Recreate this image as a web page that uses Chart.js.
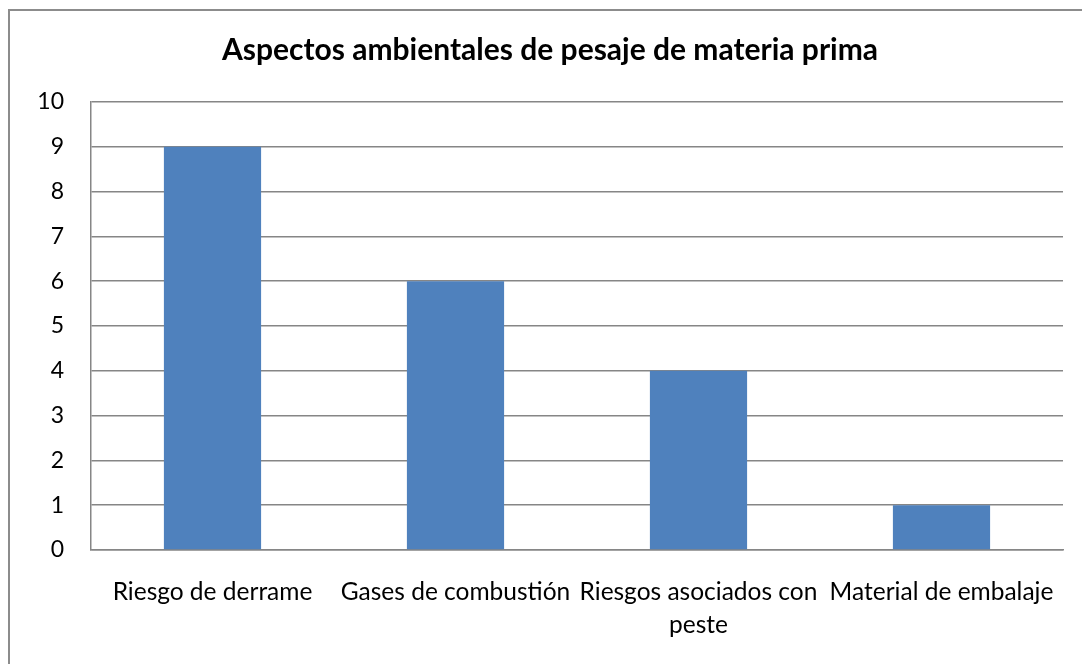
<!DOCTYPE html>
<html lang="es">
<head>
    <meta charset="UTF-8">
    <meta name="viewport" content="width=device-width, initial-scale=1.0">
    <script src="https://cdn.jsdelivr.net/npm/chart.js@4"></script>
    <title>Aspectos ambientales de pesaje de materia prima</title>
    <style>
        body { margin: 0; background: #fff; }
        #wrap { position: relative; width: 1082px; height: 664px; overflow: hidden; }
        #frame { position: absolute; left: 8px; top: 9px; width: 1200px; height: 800px; border: 2px solid #8c8c8c; box-sizing: border-box; }
        canvas { position: absolute; left: 0; top: 0; }
    </style>
</head>
<body>
<div id="wrap">
    <div id="frame"></div>
    <canvas id="myChart" width="1082" height="664"></canvas>
</div>
<script>
    // chart data
    const categories = [
        "Riesgo de derrame",
        "Gases de combustión",
        ["Riesgos asociados con", "peste"],
        "Material de embalaje"
    ];
    const values = [9, 6, 4, 1];
    const titleText = "Aspectos ambientales de pesaje de materia prima";

    const gridColor = "#868686";
    const textFont = "Lato";

    const config = {
        type: "bar",
        data: {
            labels: categories,
            datasets: [{
                label: "Aspectos",
                data: values,
                backgroundColor: "#4F81BD",
                borderWidth: 0,
                barPercentage: 0.4,
                categoryPercentage: 1
            }]
        },
        options: {
            responsive: false,
            animation: false,
            layout: { padding: { left: 37, right: 19, top: 0, bottom: 20 } },
            plugins: {
                legend: { display: false },
                tooltip: { enabled: false },
                title: {
                    display: true,
                    text: titleText,
                    color: "#000",
                    font: { family: textFont, size: 30, weight: "bold", lineHeight: 1.2 },
                    padding: { top: 32, bottom: 34 }
                }
            },
            scales: {
                x: {
                    grid: { display: false, drawTicks: false },
                    border: { display: true, color: gridColor, width: 1.5 },
                    ticks: {
                        color: "#000",
                        font: { family: textFont, size: 24.5, lineHeight: 1.33 },
                        padding: 26,
                        maxRotation: 0,
                        autoSkip: false
                    },
                    afterFit(scale) { scale.height = 94; }
                },
                y: {
                    min: 0,
                    max: 10,
                    grid: { color: gridColor, lineWidth: 1.5, drawTicks: false },
                    border: { display: true, color: gridColor, width: 1.5 },
                    ticks: {
                        stepSize: 1,
                        color: "#000",
                        font: { family: textFont, size: 23 },
                        padding: 27
                    },
                    afterFit(scale) { scale.width = 54; }
                }
            }
        }
    };

    const myChart = new Chart(document.getElementById("myChart"), config);
</script>
</body>
</html>
